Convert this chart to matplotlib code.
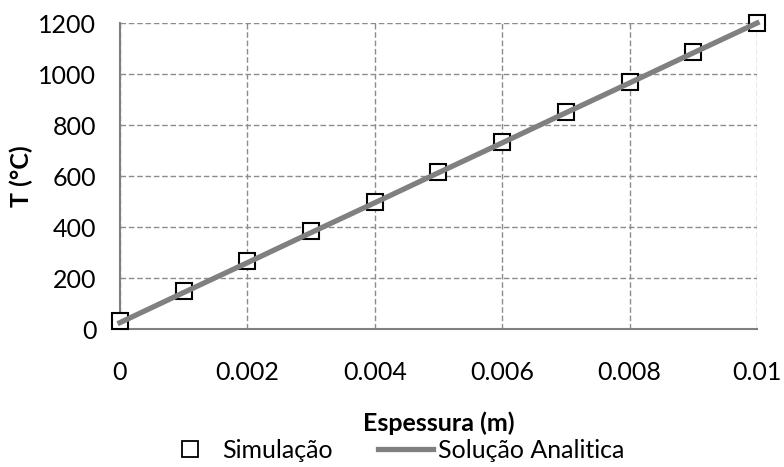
import matplotlib
matplotlib.use("Agg")
import matplotlib.pyplot as plt
from matplotlib.lines import Line2D

x = [0, 0.001, 0.002, 0.003, 0.004, 0.005, 0.006, 0.007, 0.008, 0.009, 0.01]
sim = [32, 148, 265, 383, 500, 617, 735, 852, 970, 1087, 1200]
analitica = [25, 143, 260, 378, 495, 613, 730, 848, 965, 1083, 1200]
xticks = [0, 0.002, 0.004, 0.006, 0.008, 0.01]
xticklabels = ["0", "0.002", "0.004", "0.006", "0.008", "0.01"]
yticks = [0, 200, 400, 600, 800, 1000, 1200]

plt.rcParams['font.family'] = ['Lato', 'DejaVu Sans']

fig = plt.figure(figsize=(7.84, 4.67), dpi=100)
ax = fig.add_axes([0.153, 0.2955, 0.8126, 0.6552])

ax.plot(x, sim, linestyle='none', marker='s', markersize=12, markerfacecolor='white',
        markeredgecolor='black', markeredgewidth=1.5, zorder=3, clip_on=False)
ax.plot(x, analitica, color='#808080', linewidth=3.8, zorder=4, clip_on=False)

ax.set_xlim(0, 0.01)
ax.set_ylim(0, 1200)
ax.set_xticks(xticks)
ax.set_xticklabels(xticklabels)
ax.set_yticks(yticks)
ax.tick_params(axis='both', length=0, labelsize=18)
ax.tick_params(axis='x', pad=23)
ax.tick_params(axis='y', pad=17)

ax.grid(True, color='#8c8c8c', linestyle=(0, (4, 2)), linewidth=1.0)
ax.set_axisbelow(True)
for s in ['top', 'right']:
    ax.spines[s].set_visible(False)
for s in ['left', 'bottom']:
    ax.spines[s].set_color('#808080')
    ax.spines[s].set_linewidth(1.5)

ax.set_xlabel('Espessura (m)', fontsize=18, fontweight='bold', labelpad=20)
ax.set_ylabel('T (°C)', fontsize=18, fontweight='bold', labelpad=4)

handles = [Line2D([], [], linestyle='none', marker='s', markersize=11, markerfacecolor='white',
                  markeredgecolor='black', markeredgewidth=1.3),
           Line2D([], [], color='#808080', linewidth=3.8)]
fig.legend(handles, ['Simulação', 'Solução Analitica'], loc='center', bbox_to_anchor=(0.502, 0.036),
           ncol=2, frameon=False, fontsize=18, handlelength=2.2, handletextpad=0.2, columnspacing=1.8)

fig.savefig('out.png', dpi=100)
